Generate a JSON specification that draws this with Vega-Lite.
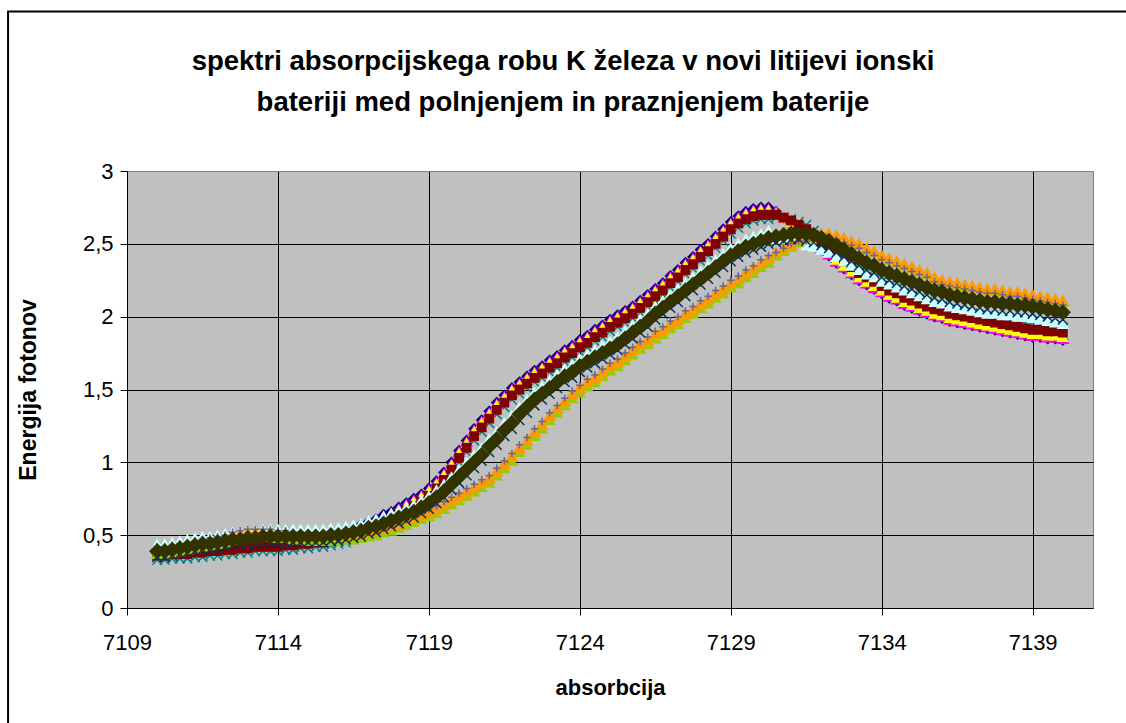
{
 "$schema": "https://vega.github.io/schema/vega-lite/v6.json",
 "width": 966, "height": 437,
 "autosize": {"type": "none"},
 "padding": {"left": 127, "top": 171, "right": 33, "bottom": 115},
 "background": "white",
 "title": {"text": ["spektri absorpcijskega robu K železa v novi litijevi ionski", "bateriji med polnjenjem in praznjenjem baterije"], "font": "Liberation Sans", "fontSize": 27.5, "fontWeight": "bold", "color": "black", "anchor": "middle", "dx": -47, "offset": -106, "lineHeight": 41},
 "config": {
  "view": {"fill": "#C0C0C0", "stroke": "#808080", "strokeWidth": 1},
  "axis": {"labelFont": "Liberation Sans", "labelFontSize": 22, "labelColor": "black", "labelFlush": false, "titleFont": "Liberation Sans", "titleFontSize": 22, "titleFontWeight": "bold", "titleColor": "black", "domainColor": "black", "tickColor": "black", "tickSize": 7, "grid": true, "gridWidth": 1, "gridOpacity": 1}
 },
 "layer": [
  {
   "data": {"values": [{}]},
   "mark": {"type": "rect", "filled": false, "stroke": "black", "strokeWidth": 2, "clip": false},
   "encoding": {
    "x": {"datum": 7105.06, "type": "quantitative", "scale": {"domain": [7109, 7141], "nice": false, "zero": false}},
    "x2": {"datum": 7146},
    "y": {"datum": 4.095, "type": "quantitative", "scale": {"domain": [0, 3], "nice": false, "zero": false}},
    "y2": {"datum": -1.2}
   }
  },
  {
   "data": {"values": [
{"x":7110,"a":0.41,"b":0.40,"c":0.39,"D":0.33,"cz":0.36,"f":0.44,"g":0.37,"h":0.40,"i":0.42,"j":0.35,"k":0.39},
{"x":7110.25,"a":0.41,"b":0.40,"c":0.39,"D":0.33,"cz":0.36,"f":0.44,"g":0.37,"h":0.40,"i":0.42,"j":0.35,"k":0.39},
{"x":7110.5,"a":0.42,"b":0.41,"c":0.40,"D":0.34,"cz":0.37,"f":0.45,"g":0.38,"h":0.41,"i":0.43,"j":0.36,"k":0.40},
{"x":7110.75,"a":0.42,"b":0.41,"c":0.40,"D":0.34,"cz":0.37,"f":0.46,"g":0.39,"h":0.42,"i":0.44,"j":0.37,"k":0.41},
{"x":7111,"a":0.42,"b":0.41,"c":0.40,"D":0.34,"cz":0.37,"f":0.47,"g":0.40,"h":0.43,"i":0.45,"j":0.38,"k":0.42},
{"x":7111.25,"a":0.43,"b":0.42,"c":0.41,"D":0.35,"cz":0.38,"f":0.48,"g":0.41,"h":0.44,"i":0.46,"j":0.39,"k":0.43},
{"x":7111.5,"a":0.43,"b":0.42,"c":0.41,"D":0.35,"cz":0.38,"f":0.49,"g":0.42,"h":0.45,"i":0.47,"j":0.40,"k":0.44},
{"x":7111.75,"a":0.44,"b":0.43,"c":0.42,"D":0.36,"cz":0.39,"f":0.49,"g":0.43,"h":0.46,"i":0.48,"j":0.40,"k":0.44},
{"x":7112,"a":0.44,"b":0.43,"c":0.42,"D":0.36,"cz":0.39,"f":0.50,"g":0.44,"h":0.47,"i":0.49,"j":0.41,"k":0.45},
{"x":7112.25,"a":0.45,"b":0.44,"c":0.43,"D":0.37,"cz":0.40,"f":0.51,"g":0.45,"h":0.48,"i":0.50,"j":0.42,"k":0.46},
{"x":7112.5,"a":0.45,"b":0.44,"c":0.43,"D":0.37,"cz":0.40,"f":0.52,"g":0.47,"h":0.50,"i":0.52,"j":0.43,"k":0.47},
{"x":7112.75,"a":0.46,"b":0.45,"c":0.44,"D":0.38,"cz":0.41,"f":0.52,"g":0.48,"h":0.51,"i":0.53,"j":0.43,"k":0.47},
{"x":7113,"a":0.46,"b":0.45,"c":0.44,"D":0.38,"cz":0.41,"f":0.53,"g":0.49,"h":0.52,"i":0.54,"j":0.44,"k":0.48},
{"x":7113.25,"a":0.47,"b":0.46,"c":0.45,"D":0.39,"cz":0.42,"f":0.53,"g":0.49,"h":0.52,"i":0.54,"j":0.44,"k":0.48},
{"x":7113.5,"a":0.47,"b":0.46,"c":0.45,"D":0.39,"cz":0.42,"f":0.54,"g":0.49,"h":0.52,"i":0.54,"j":0.45,"k":0.49},
{"x":7113.75,"a":0.47,"b":0.46,"c":0.45,"D":0.39,"cz":0.42,"f":0.54,"g":0.49,"h":0.52,"i":0.54,"j":0.45,"k":0.49},
{"x":7114,"a":0.47,"b":0.46,"c":0.45,"D":0.39,"cz":0.42,"f":0.54,"g":0.48,"h":0.51,"i":0.53,"j":0.45,"k":0.49},
{"x":7114.25,"a":0.48,"b":0.47,"c":0.46,"D":0.40,"cz":0.43,"f":0.54,"g":0.48,"h":0.51,"i":0.53,"j":0.45,"k":0.49},
{"x":7114.5,"a":0.48,"b":0.47,"c":0.46,"D":0.40,"cz":0.43,"f":0.54,"g":0.47,"h":0.50,"i":0.52,"j":0.45,"k":0.49},
{"x":7114.75,"a":0.49,"b":0.48,"c":0.47,"D":0.41,"cz":0.44,"f":0.54,"g":0.47,"h":0.50,"i":0.52,"j":0.45,"k":0.49},
{"x":7115,"a":0.49,"b":0.48,"c":0.47,"D":0.41,"cz":0.44,"f":0.54,"g":0.46,"h":0.49,"i":0.51,"j":0.45,"k":0.49},
{"x":7115.25,"a":0.50,"b":0.49,"c":0.48,"D":0.42,"cz":0.45,"f":0.54,"g":0.46,"h":0.49,"i":0.51,"j":0.45,"k":0.49},
{"x":7115.5,"a":0.50,"b":0.49,"c":0.48,"D":0.42,"cz":0.45,"f":0.54,"g":0.46,"h":0.49,"i":0.51,"j":0.45,"k":0.49},
{"x":7115.75,"a":0.51,"b":0.50,"c":0.49,"D":0.43,"cz":0.46,"f":0.55,"g":0.46,"h":0.49,"i":0.51,"j":0.46,"k":0.50},
{"x":7116,"a":0.52,"b":0.51,"c":0.50,"D":0.44,"cz":0.47,"f":0.55,"g":0.46,"h":0.49,"i":0.51,"j":0.46,"k":0.50},
{"x":7116.25,"a":0.53,"b":0.52,"c":0.51,"D":0.45,"cz":0.48,"f":0.56,"g":0.47,"h":0.50,"i":0.52,"j":0.47,"k":0.51},
{"x":7116.5,"a":0.55,"b":0.54,"c":0.53,"D":0.47,"cz":0.50,"f":0.57,"g":0.47,"h":0.50,"i":0.52,"j":0.48,"k":0.52},
{"x":7116.75,"a":0.57,"b":0.56,"c":0.55,"D":0.49,"cz":0.52,"f":0.58,"g":0.48,"h":0.51,"i":0.53,"j":0.49,"k":0.53},
{"x":7117,"a":0.59,"b":0.58,"c":0.57,"D":0.51,"cz":0.54,"f":0.60,"g":0.49,"h":0.52,"i":0.54,"j":0.51,"k":0.55},
{"x":7117.25,"a":0.61,"b":0.60,"c":0.59,"D":0.53,"cz":0.56,"f":0.61,"g":0.50,"h":0.53,"i":0.55,"j":0.52,"k":0.56},
{"x":7117.5,"a":0.64,"b":0.63,"c":0.62,"D":0.56,"cz":0.59,"f":0.63,"g":0.52,"h":0.55,"i":0.57,"j":0.54,"k":0.58},
{"x":7117.75,"a":0.66,"b":0.65,"c":0.64,"D":0.58,"cz":0.61,"f":0.65,"g":0.53,"h":0.56,"i":0.58,"j":0.56,"k":0.60},
{"x":7118,"a":0.69,"b":0.68,"c":0.67,"D":0.61,"cz":0.64,"f":0.67,"g":0.55,"h":0.58,"i":0.60,"j":0.58,"k":0.62},
{"x":7118.25,"a":0.72,"b":0.71,"c":0.70,"D":0.64,"cz":0.67,"f":0.69,"g":0.57,"h":0.60,"i":0.62,"j":0.60,"k":0.64},
{"x":7118.5,"a":0.75,"b":0.74,"c":0.73,"D":0.67,"cz":0.70,"f":0.71,"g":0.59,"h":0.62,"i":0.64,"j":0.62,"k":0.66},
{"x":7118.75,"a":0.78,"b":0.77,"c":0.76,"D":0.70,"cz":0.73,"f":0.74,"g":0.61,"h":0.64,"i":0.66,"j":0.65,"k":0.69},
{"x":7119,"a":0.82,"b":0.81,"c":0.80,"D":0.74,"cz":0.77,"f":0.77,"g":0.63,"h":0.66,"i":0.68,"j":0.68,"k":0.72},
{"x":7119.25,"a":0.87,"b":0.86,"c":0.85,"D":0.79,"cz":0.82,"f":0.81,"g":0.65,"h":0.68,"i":0.70,"j":0.72,"k":0.76},
{"x":7119.5,"a":0.93,"b":0.92,"c":0.91,"D":0.85,"cz":0.88,"f":0.85,"g":0.68,"h":0.71,"i":0.73,"j":0.76,"k":0.80},
{"x":7119.75,"a":1.00,"b":0.99,"c":0.98,"D":0.92,"cz":0.95,"f":0.90,"g":0.71,"h":0.74,"i":0.76,"j":0.81,"k":0.85},
{"x":7120,"a":1.08,"b":1.07,"c":1.06,"D":1.00,"cz":1.03,"f":0.95,"g":0.74,"h":0.77,"i":0.79,"j":0.86,"k":0.90},
{"x":7120.25,"a":1.15,"b":1.14,"c":1.13,"D":1.07,"cz":1.10,"f":1.00,"g":0.77,"h":0.80,"i":0.82,"j":0.91,"k":0.95},
{"x":7120.5,"a":1.23,"b":1.22,"c":1.21,"D":1.15,"cz":1.18,"f":1.05,"g":0.80,"h":0.83,"i":0.85,"j":0.96,"k":1.00},
{"x":7120.75,"a":1.29,"b":1.28,"c":1.27,"D":1.21,"cz":1.24,"f":1.10,"g":0.83,"h":0.86,"i":0.88,"j":1.01,"k":1.05},
{"x":7121,"a":1.35,"b":1.34,"c":1.33,"D":1.27,"cz":1.30,"f":1.16,"g":0.86,"h":0.89,"i":0.91,"j":1.07,"k":1.11},
{"x":7121.25,"a":1.41,"b":1.40,"c":1.39,"D":1.33,"cz":1.36,"f":1.21,"g":0.91,"h":0.94,"i":0.96,"j":1.12,"k":1.16},
{"x":7121.5,"a":1.46,"b":1.45,"c":1.44,"D":1.38,"cz":1.41,"f":1.27,"g":0.96,"h":0.99,"i":1.01,"j":1.18,"k":1.22},
{"x":7121.75,"a":1.51,"b":1.50,"c":1.49,"D":1.43,"cz":1.46,"f":1.32,"g":1.01,"h":1.04,"i":1.06,"j":1.23,"k":1.27},
{"x":7122,"a":1.55,"b":1.54,"c":1.53,"D":1.47,"cz":1.50,"f":1.38,"g":1.07,"h":1.10,"i":1.12,"j":1.29,"k":1.33},
{"x":7122.25,"a":1.59,"b":1.58,"c":1.57,"D":1.51,"cz":1.54,"f":1.43,"g":1.12,"h":1.15,"i":1.17,"j":1.34,"k":1.38},
{"x":7122.5,"a":1.63,"b":1.62,"c":1.61,"D":1.55,"cz":1.58,"f":1.48,"g":1.18,"h":1.21,"i":1.23,"j":1.39,"k":1.43},
{"x":7122.75,"a":1.66,"b":1.65,"c":1.64,"D":1.58,"cz":1.61,"f":1.52,"g":1.23,"h":1.26,"i":1.28,"j":1.43,"k":1.47},
{"x":7123,"a":1.70,"b":1.69,"c":1.68,"D":1.62,"cz":1.65,"f":1.56,"g":1.29,"h":1.32,"i":1.34,"j":1.47,"k":1.51},
{"x":7123.25,"a":1.73,"b":1.72,"c":1.71,"D":1.65,"cz":1.68,"f":1.60,"g":1.34,"h":1.37,"i":1.39,"j":1.51,"k":1.55},
{"x":7123.5,"a":1.77,"b":1.76,"c":1.75,"D":1.69,"cz":1.72,"f":1.64,"g":1.39,"h":1.42,"i":1.44,"j":1.55,"k":1.59},
{"x":7123.75,"a":1.80,"b":1.79,"c":1.78,"D":1.72,"cz":1.75,"f":1.67,"g":1.44,"h":1.47,"i":1.49,"j":1.58,"k":1.62},
{"x":7124,"a":1.84,"b":1.83,"c":1.82,"D":1.76,"cz":1.79,"f":1.71,"g":1.48,"h":1.51,"i":1.53,"j":1.62,"k":1.66},
{"x":7124.25,"a":1.87,"b":1.86,"c":1.85,"D":1.79,"cz":1.82,"f":1.74,"g":1.52,"h":1.55,"i":1.57,"j":1.65,"k":1.69},
{"x":7124.5,"a":1.91,"b":1.90,"c":1.89,"D":1.83,"cz":1.86,"f":1.77,"g":1.55,"h":1.58,"i":1.60,"j":1.68,"k":1.72},
{"x":7124.75,"a":1.94,"b":1.93,"c":1.92,"D":1.86,"cz":1.89,"f":1.80,"g":1.59,"h":1.62,"i":1.64,"j":1.71,"k":1.75},
{"x":7125,"a":1.98,"b":1.97,"c":1.96,"D":1.90,"cz":1.93,"f":1.83,"g":1.63,"h":1.66,"i":1.68,"j":1.74,"k":1.78},
{"x":7125.25,"a":2.01,"b":2.00,"c":1.99,"D":1.93,"cz":1.96,"f":1.86,"g":1.66,"h":1.69,"i":1.71,"j":1.77,"k":1.81},
{"x":7125.5,"a":2.04,"b":2.03,"c":2.02,"D":1.96,"cz":1.99,"f":1.90,"g":1.70,"h":1.73,"i":1.75,"j":1.81,"k":1.85},
{"x":7125.75,"a":2.07,"b":2.06,"c":2.05,"D":1.99,"cz":2.02,"f":1.94,"g":1.74,"h":1.77,"i":1.79,"j":1.85,"k":1.89},
{"x":7126,"a":2.11,"b":2.10,"c":2.09,"D":2.03,"cz":2.06,"f":1.98,"g":1.78,"h":1.81,"i":1.83,"j":1.89,"k":1.93},
{"x":7126.25,"a":2.15,"b":2.14,"c":2.13,"D":2.07,"cz":2.10,"f":2.02,"g":1.81,"h":1.84,"i":1.86,"j":1.93,"k":1.97},
{"x":7126.5,"a":2.19,"b":2.18,"c":2.17,"D":2.11,"cz":2.14,"f":2.07,"g":1.85,"h":1.88,"i":1.90,"j":1.98,"k":2.02},
{"x":7126.75,"a":2.23,"b":2.22,"c":2.21,"D":2.15,"cz":2.18,"f":2.11,"g":1.88,"h":1.91,"i":1.93,"j":2.02,"k":2.06},
{"x":7127,"a":2.28,"b":2.27,"c":2.26,"D":2.20,"cz":2.23,"f":2.15,"g":1.92,"h":1.95,"i":1.97,"j":2.06,"k":2.10},
{"x":7127.25,"a":2.32,"b":2.31,"c":2.30,"D":2.24,"cz":2.27,"f":2.19,"g":1.95,"h":1.98,"i":2.00,"j":2.10,"k":2.14},
{"x":7127.5,"a":2.37,"b":2.36,"c":2.35,"D":2.29,"cz":2.32,"f":2.23,"g":1.99,"h":2.02,"i":2.04,"j":2.14,"k":2.18},
{"x":7127.75,"a":2.41,"b":2.40,"c":2.39,"D":2.33,"cz":2.36,"f":2.27,"g":2.02,"h":2.05,"i":2.07,"j":2.18,"k":2.22},
{"x":7128,"a":2.46,"b":2.45,"c":2.44,"D":2.38,"cz":2.41,"f":2.31,"g":2.06,"h":2.09,"i":2.11,"j":2.22,"k":2.26},
{"x":7128.25,"a":2.50,"b":2.49,"c":2.48,"D":2.42,"cz":2.45,"f":2.35,"g":2.09,"h":2.12,"i":2.14,"j":2.26,"k":2.30},
{"x":7128.5,"a":2.55,"b":2.54,"c":2.53,"D":2.47,"cz":2.50,"f":2.39,"g":2.13,"h":2.16,"i":2.18,"j":2.30,"k":2.34},
{"x":7128.75,"a":2.60,"b":2.59,"c":2.58,"D":2.52,"cz":2.55,"f":2.43,"g":2.16,"h":2.19,"i":2.21,"j":2.34,"k":2.38},
{"x":7129,"a":2.65,"b":2.64,"c":2.63,"D":2.57,"cz":2.60,"f":2.47,"g":2.20,"h":2.23,"i":2.25,"j":2.38,"k":2.42},
{"x":7129.25,"a":2.69,"b":2.68,"c":2.67,"D":2.61,"cz":2.64,"f":2.50,"g":2.23,"h":2.26,"i":2.28,"j":2.41,"k":2.45},
{"x":7129.5,"a":2.72,"b":2.71,"c":2.70,"D":2.64,"cz":2.67,"f":2.53,"g":2.27,"h":2.30,"i":2.32,"j":2.44,"k":2.48},
{"x":7129.75,"a":2.74,"b":2.73,"c":2.72,"D":2.66,"cz":2.69,"f":2.55,"g":2.30,"h":2.33,"i":2.35,"j":2.46,"k":2.50},
{"x":7130,"a":2.75,"b":2.74,"c":2.73,"D":2.67,"cz":2.70,"f":2.57,"g":2.34,"h":2.37,"i":2.39,"j":2.48,"k":2.52},
{"x":7130.25,"a":2.75,"b":2.74,"c":2.73,"D":2.67,"cz":2.70,"f":2.59,"g":2.37,"h":2.40,"i":2.42,"j":2.50,"k":2.54},
{"x":7130.5,"a":2.72,"b":2.72,"c":2.71,"D":2.68,"cz":2.70,"f":2.53,"g":2.42,"h":2.44,"i":2.44,"j":2.51,"k":2.55},
{"x":7130.75,"a":2.68,"b":2.68,"c":2.68,"D":2.68,"cz":2.68,"f":2.54,"g":2.45,"h":2.47,"i":2.47,"j":2.52,"k":2.56},
{"x":7131,"a":2.64,"b":2.65,"c":2.65,"D":2.67,"cz":2.66,"f":2.55,"g":2.48,"h":2.50,"i":2.50,"j":2.53,"k":2.57},
{"x":7131.25,"a":2.60,"b":2.61,"c":2.62,"D":2.65,"cz":2.63,"f":2.53,"g":2.51,"h":2.53,"i":2.52,"j":2.53,"k":2.57},
{"x":7131.5,"a":2.55,"b":2.56,"c":2.57,"D":2.63,"cz":2.60,"f":2.49,"g":2.54,"h":2.55,"i":2.52,"j":2.52,"k":2.57},
{"x":7131.75,"a":2.51,"b":2.52,"c":2.53,"D":2.59,"cz":2.56,"f":2.48,"g":2.55,"h":2.56,"i":2.53,"j":2.51,"k":2.56},
{"x":7132,"a":2.46,"b":2.47,"c":2.48,"D":2.54,"cz":2.51,"f":2.46,"g":2.56,"h":2.57,"i":2.54,"j":2.49,"k":2.54},
{"x":7132.25,"a":2.42,"b":2.43,"c":2.44,"D":2.50,"cz":2.47,"f":2.44,"g":2.56,"h":2.57,"i":2.54,"j":2.47,"k":2.52},
{"x":7132.5,"a":2.37,"b":2.38,"c":2.39,"D":2.45,"cz":2.42,"f":2.41,"g":2.55,"h":2.56,"i":2.53,"j":2.44,"k":2.49},
{"x":7132.75,"a":2.33,"b":2.34,"c":2.35,"D":2.41,"cz":2.38,"f":2.38,"g":2.53,"h":2.54,"i":2.51,"j":2.41,"k":2.46},
{"x":7133,"a":2.29,"b":2.30,"c":2.31,"D":2.37,"cz":2.34,"f":2.35,"g":2.51,"h":2.52,"i":2.49,"j":2.38,"k":2.43},
{"x":7133.25,"a":2.25,"b":2.26,"c":2.27,"D":2.33,"cz":2.30,"f":2.32,"g":2.49,"h":2.50,"i":2.47,"j":2.35,"k":2.40},
{"x":7133.5,"a":2.22,"b":2.23,"c":2.24,"D":2.30,"cz":2.27,"f":2.29,"g":2.46,"h":2.47,"i":2.44,"j":2.32,"k":2.37},
{"x":7133.75,"a":2.19,"b":2.20,"c":2.21,"D":2.27,"cz":2.24,"f":2.27,"g":2.44,"h":2.45,"i":2.42,"j":2.30,"k":2.35},
{"x":7134,"a":2.16,"b":2.17,"c":2.18,"D":2.24,"cz":2.21,"f":2.24,"g":2.41,"h":2.42,"i":2.39,"j":2.27,"k":2.32},
{"x":7134.25,"a":2.13,"b":2.14,"c":2.15,"D":2.21,"cz":2.18,"f":2.22,"g":2.39,"h":2.40,"i":2.37,"j":2.25,"k":2.30},
{"x":7134.5,"a":2.11,"b":2.12,"c":2.13,"D":2.19,"cz":2.16,"f":2.20,"g":2.37,"h":2.38,"i":2.35,"j":2.23,"k":2.28},
{"x":7134.75,"a":2.08,"b":2.09,"c":2.10,"D":2.16,"cz":2.13,"f":2.18,"g":2.35,"h":2.36,"i":2.33,"j":2.21,"k":2.26},
{"x":7135,"a":2.06,"b":2.07,"c":2.08,"D":2.14,"cz":2.11,"f":2.16,"g":2.33,"h":2.34,"i":2.31,"j":2.19,"k":2.24},
{"x":7135.25,"a":2.04,"b":2.05,"c":2.06,"D":2.12,"cz":2.09,"f":2.14,"g":2.31,"h":2.32,"i":2.29,"j":2.17,"k":2.22},
{"x":7135.5,"a":2.02,"b":2.03,"c":2.04,"D":2.10,"cz":2.07,"f":2.12,"g":2.29,"h":2.30,"i":2.27,"j":2.15,"k":2.20},
{"x":7135.75,"a":2.00,"b":2.01,"c":2.02,"D":2.08,"cz":2.05,"f":2.10,"g":2.26,"h":2.27,"i":2.24,"j":2.13,"k":2.18},
{"x":7136,"a":1.99,"b":2.00,"c":2.01,"D":2.07,"cz":2.04,"f":2.09,"g":2.24,"h":2.25,"i":2.22,"j":2.12,"k":2.17},
{"x":7136.25,"a":1.97,"b":1.98,"c":1.99,"D":2.05,"cz":2.02,"f":2.07,"g":2.23,"h":2.24,"i":2.21,"j":2.10,"k":2.15},
{"x":7136.5,"a":1.96,"b":1.97,"c":1.98,"D":2.04,"cz":2.01,"f":2.06,"g":2.22,"h":2.23,"i":2.20,"j":2.09,"k":2.14},
{"x":7136.75,"a":1.95,"b":1.96,"c":1.97,"D":2.03,"cz":2.00,"f":2.05,"g":2.21,"h":2.22,"i":2.19,"j":2.08,"k":2.13},
{"x":7137,"a":1.94,"b":1.95,"c":1.96,"D":2.02,"cz":1.99,"f":2.04,"g":2.20,"h":2.21,"i":2.18,"j":2.07,"k":2.12},
{"x":7137.25,"a":1.93,"b":1.94,"c":1.95,"D":2.01,"cz":1.98,"f":2.03,"g":2.19,"h":2.20,"i":2.17,"j":2.06,"k":2.11},
{"x":7137.5,"a":1.92,"b":1.93,"c":1.94,"D":2.00,"cz":1.97,"f":2.02,"g":2.18,"h":2.19,"i":2.16,"j":2.05,"k":2.10},
{"x":7137.75,"a":1.91,"b":1.92,"c":1.93,"D":1.99,"cz":1.96,"f":2.02,"g":2.18,"h":2.19,"i":2.16,"j":2.05,"k":2.10},
{"x":7138,"a":1.90,"b":1.91,"c":1.92,"D":1.98,"cz":1.95,"f":2.01,"g":2.17,"h":2.18,"i":2.15,"j":2.04,"k":2.09},
{"x":7138.25,"a":1.89,"b":1.90,"c":1.91,"D":1.97,"cz":1.94,"f":2.01,"g":2.16,"h":2.17,"i":2.14,"j":2.04,"k":2.09},
{"x":7138.5,"a":1.88,"b":1.89,"c":1.90,"D":1.96,"cz":1.93,"f":2.00,"g":2.16,"h":2.17,"i":2.14,"j":2.03,"k":2.08},
{"x":7138.75,"a":1.87,"b":1.88,"c":1.89,"D":1.95,"cz":1.92,"f":2.00,"g":2.15,"h":2.16,"i":2.13,"j":2.03,"k":2.08},
{"x":7139,"a":1.86,"b":1.87,"c":1.88,"D":1.94,"cz":1.91,"f":1.99,"g":2.14,"h":2.15,"i":2.12,"j":2.02,"k":2.07},
{"x":7139.25,"a":1.86,"b":1.87,"c":1.88,"D":1.94,"cz":1.91,"f":1.98,"g":2.13,"h":2.14,"i":2.11,"j":2.01,"k":2.06},
{"x":7139.5,"a":1.85,"b":1.86,"c":1.87,"D":1.93,"cz":1.90,"f":1.97,"g":2.12,"h":2.13,"i":2.10,"j":2.00,"k":2.05},
{"x":7139.75,"a":1.85,"b":1.86,"c":1.87,"D":1.93,"cz":1.90,"f":1.96,"g":2.11,"h":2.12,"i":2.09,"j":1.99,"k":2.04},
{"x":7140,"a":1.84,"b":1.85,"c":1.86,"D":1.92,"cz":1.89,"f":1.95,"g":2.10,"h":2.11,"i":2.08,"j":1.98,"k":2.03}
   ]},
   "transform": [{"fold": ["D","a","b","c","cz","f","g","h","i","j","k"], "as": ["s", "v"]}],
   "mark": {"type": "point", "filled": true, "opacity": 1, "strokeWidth": 1.5, "clip": true},
   "encoding": {
    "x": {"field": "x", "type": "quantitative", "scale": {"domain": [7109, 7141], "nice": false, "zero": false},
      "axis": {"values": [7109,7114,7119,7124,7129,7134,7139], "format": "d", "title": "absorbcija", "labelPadding": 17, "titlePadding": 24, "gridColor": "black"}},
    "y": {"field": "v", "type": "quantitative", "scale": {"domain": [0, 3], "nice": false, "zero": false},
      "axis": {"values": [0,0.5,1,1.5,2,2.5,3], "labelExpr": "replace(format(datum.value, '~g'), '.', ',')", "title": "Energija fotonov", "titleFontSize": 23, "labelPadding": 7, "titlePadding": 42,
        "gridColor": {"condition": {"test": "datum.value === 3", "value": "#808080"}, "value": "black"}}},
    "fill": {"field": "s", "type": "nominal", "legend": null, "scale": {"domain": ["D","a","b","c","cz","f","g","h","i","j","k"], "range": ["#008080","#000080","#FF00FF","#FFFF00","#800000","#CCFFFF","#99CC00","#FF9900","#666699","#003366","#333300"]}},
    "stroke": {"field": "s", "type": "nominal", "legend": null, "scale": {"domain": ["D","a","b","c","cz","f","g","h","i","j","k"], "range": ["#008080","#000080","#FF00FF","#FFFF00","#800000","#CCFFFF","#99CC00","#FF9900","#666699","#003366","#333300"]}},
    "shape": {"field": "s", "type": "nominal", "legend": null, "scale": {"domain": ["D","a","b","c","cz","f","g","h","i","j","k"], "range": ["M-1,-1L1,1M-1,1L1,-1","M0,-1L1,0L0,1L-1,0Z","triangle-up","triangle-up","square","triangle-up","triangle-up","triangle-up","M-1,0L1,0M0,-1L0,1","M-1,-1L1,1M-1,1L1,-1","M0,-1L1,0L0,1L-1,0Z"]}},
    "size": {"condition": [{"test": "datum.s === 'k'", "value": 200}, {"test": "datum.s === 'i'", "value": 55}, {"test": "datum.s === 'cz'", "value": 70}, {"test": "datum.s === 'h' || datum.s === 'b'", "value": 115}], "value": 95},
    "order": {"field": "s", "type": "nominal"}
   }
  }
 ]
}
